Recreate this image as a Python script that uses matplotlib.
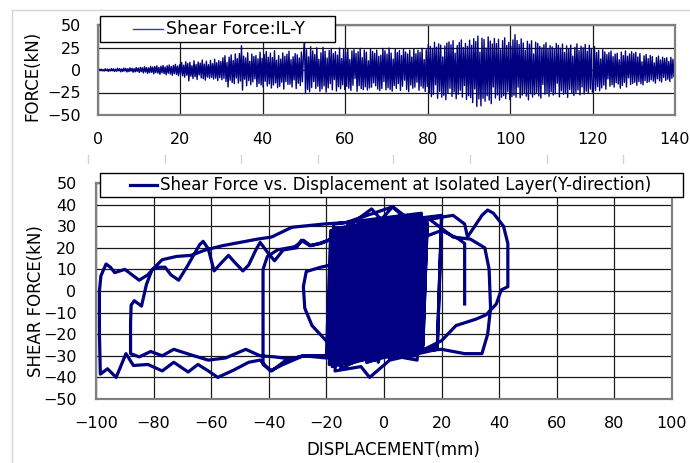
import numpy as np
import matplotlib
matplotlib.use("Agg")
import matplotlib.pyplot as plt
from matplotlib.lines import Line2D
from matplotlib.patches import Rectangle

plt.rcParams['font.family'] = ['DejaVu Sans']

NAVY = "#000080"

# --- top panel: shear force time history (kN), 0 - 140 s ---
shear_force = [
    0.0, 0.8, -0.6, 1.1, -0.9, 0.5, -1.2, 1.4, -0.7, 1.0, -1.5, 0.9, -1.1, 1.6, -0.8, 1.3, -1.7, 1.0, -1.3, 1.9,
    -0.9, 1.5, -2.0, 1.2, -1.6, 2.1, -1.0, 1.7, -2.2, 1.4, -1.8, 2.4, -1.2, 1.9, -2.5, 1.6, -2.0, 2.6, -1.5, 2.2,
    -2.7, 3.0, -1.9, 2.5, -3.3, 3.6, -2.2, 2.8, -3.8, 2.4, -3.0, 4.1, -2.6, 3.3, -4.3, 3.8, -2.9, 4.6, -3.5, 2.9,
    -4.8, 4.2, -3.2, 5.0, -4.0, 3.4, -5.3, 4.7, -3.6, 5.6, -4.5, 3.9, -5.9, 5.1, -4.1, 6.2, -5.0, 4.4, -6.3, 5.8,
    -4.9, 8.3, -6.5, 5.4, -8.0, 9.1, -5.8, 7.2, -12.1, 8.6, -6.9, 4.8, -9.4, 10.3, -7.4, 6.1, -10.6, 8.9, -5.6, 7.7,
    -8.8, 11.1, -9.7, 6.6, -11.3, 9.8, -7.9, 5.9, -9.1, 10.7, -8.3, 7.0, -10.1, 12.0, -9.0, 8.1, -11.8, 10.4, -8.6, 9.5,
    -10.8, 13.6, -9.2, 15.9, -12.7, 8.4, -18.8, 14.3, -11.4, 16.8, -13.9, 10.5, -15.2, 17.9, -8.9, 12.6, -14.5, 18.3, -12.3, 27.0,
    -22.4, 15.5, -10.2, 13.4, -17.5, 19.2, -11.8, 9.6, -16.3, 17.7, -13.2, 14.9, -9.8, 16.0, -18.5, 12.4, -15.0, 19.8, -16.6, 13.0,
    -19.1, 17.3, -12.6, 20.5, -17.8, 14.2, -15.4, 18.7, -20.0, 13.8, -16.7, 21.4, -14.3, 10.9, -19.7, 16.0, -18.1, 12.0, -13.5, 19.0,
    -21.2, 15.2, -12.9, 17.6, -16.0, 20.9, -15.7, 11.4, -18.9, 14.7, -11.0, 18.2, -20.6, 16.9, -14.8, 13.3, -17.3, 20.1, -13.1, 15.8,
    30.5, -25.3, 22.4, -21.7, 14.6, -24.1, 25.8, -19.4, 21.2, -12.9, 17.3, -20.5, 24.7, -18.1, 11.9, -23.6, 19.1, -21.0, 25.2, -17.7,
    20.8, -24.5, 13.3, -19.9, 21.7, -15.2, 23.9, -22.0, 18.2, -10.6, 20.4, -23.3, 16.5, -18.6, 24.3, -20.9, 12.7, -16.4, 22.7, -21.8,
    19.6, -18.3, 23.4, -20.2, 11.8, -22.8, 21.1, -16.9, 22.6, -9.5, 18.4, -23.7, 20.3, -17.4, 24.0, -20.8, 13.7, -21.9, 22.2, -18.7,
    19.8, -22.3, 10.2, -20.0, 23.1, -19.1, 20.7, -14.2, 18.5, -17.6, 22.1, -21.2, 15.2, -23.0, 16.4, -20.6, 23.9, -12.8, 21.4, -22.1,
    17.6, -19.7, 24.4, -21.7, 18.9, -23.5, 12.1, -17.3, 22.8, -20.4, 19.3, -15.1, 21.6, -22.7, 16.2, -18.0, 23.5, -11.3, 20.0, -21.5,
    17.8, -24.0, 22.0, -16.6, 14.4, -20.3, 23.2, -19.0, 18.1, -13.6, 21.9, -22.5, 19.6, -17.9, 24.1, -20.1, 11.5, -23.8, 22.4, -18.4,
    28.4, -25.8, 26.1, -29.7, 24.0, -27.2, 30.8, -16.4, 25.3, -31.5, 29.1, -23.8, 27.6, -30.2, 14.5, -28.1, 26.7, -33.0, 29.9, -25.6,
    31.2, -20.3, 28.0, -29.3, 32.6, -24.4, 18.7, -31.9, 27.1, -26.8, 30.5, -22.6, 33.4, -30.1, 24.9, -17.2, 29.6, -32.7, 26.3, -28.5,
    33.1, -30.7, 27.5, -36.2, 34.8, -21.0, 31.6, -40.5, 37.6, -32.1, 19.8, -39.8, 35.3, -31.4, 33.9, -34.7, 24.4, -28.6, 36.8, -33.5,
    32.2, -37.4, 28.9, -18.9, 35.0, -31.2, 29.4, -27.7, 34.1, -33.6, 22.5, -30.3, 32.7, -28.4, 35.8, -31.8, 27.3, -24.0, 30.6, -32.9,
    26.5, -29.6, 33.4, -28.0, 39.2, -30.3, 32.7, -19.1, 28.2, -31.0, 34.6, -27.9, 30.0, -25.4, 21.7, -29.0, 31.9, -33.2, 28.7, -26.2,
    32.5, -30.1, 17.8, -27.4, 30.9, -24.8, 29.5, -28.8, 26.3, -31.3, 24.6, -16.0, 28.1, -26.9, 30.3, -25.0, 23.7, -29.2, 27.0, -24.1,
    25.6, -27.8, 22.9, -26.5, 29.4, -14.7, 27.2, -29.9, 24.3, -23.1, 28.8, -27.0, 19.5, -25.7, 26.9, -30.4, 23.0, -21.8, 27.7, -26.0,
    15.4, -28.3, 25.1, -24.9, 29.0, -22.2, 21.6, -27.6, 26.4, -18.8, 24.7, -26.7, 28.3, -23.4, 20.9, -25.3, 27.5, -21.2, 23.8, -24.6,
    -20.4, 26.0, -22.6, 19.5, -18.5, 21.8, -23.1, 12.2, -19.9, 22.5, -16.8, 20.0, -21.3, 17.1, -9.9, 19.3, -18.0, 21.0, -16.3, 14.8,
    -19.0, 17.7, -14.2, 18.6, -15.6, 11.4, -20.2, 19.9, -17.2, 16.0, -13.8, 21.2, -18.9, 15.3, -8.7, 17.9, -16.1, 20.4, -14.9, 18.1,
    -13.7, 19.7, -17.0, 14.5, -12.9, 18.3, -15.2, 9.1, -16.5, 15.7, -11.8, 17.4, -14.0, 12.6, -13.1, 16.1, -10.9, 14.9, -12.4, 7.8,
    -14.6, 13.8, -9.8, 15.5, -12.0, 11.1, -13.4, 14.2, -8.3, 12.8, -11.5, 13.6, -10.2, 9.4, -12.7, 14.0, -9.1, 11.9, -7.6, 10.5,
]
time_s = np.linspace(0, 140, len(shear_force))

# --- bottom panel: hysteresis path, displacement (mm) / shear force (kN) vertices ---
# small growing cycles
early_disp = [0, -3, -2, 3, 2, -5, -4, 4, 3, -6, -4.5, 6, 4.5, -8, -6.5, 5, 3.5,
              -10, -8.5, 7, 5.5, -9, -7.5, 8, 6.5, -12, -10.5, 9, 7.5, -13, -11.5, 6, 4.5]
early_force = [0, -8, 5, 8, -5, -12, 9, 12, -9, -16, 12, 17, -12, -19, 15, 20, -15,
               -22, 18, 23, -18, -24, 20, 26, -20, -26, 22, 28, -22, -28, 24, 30, -24]

# excursion to -42 mm
loop40_disp = [-20, -28, -34, -39, -42, -42, -42, -42, -40.5, -37, -31, -28, -25.5, -22, -15, 0, 10, 8.5]
loop40_force = [-30, -30, -32, -37, -34, -20, 0, 10, 16, 19, 20.5, 23.5, 21, 22, 26, 29, 31, -24]

core1_disp = [-11, -9.5, 10, 8.5, -15, -13.5, 9, 7.5, -14, -12.5, 11, 9.5, -16, -14.5, 8, 6.5,
              -12, -10.5, 12, 10.5, -17, -15.5, 10, 8.5, -15, -13.5, 13, 11.5, -13, -11.5, 7, 5.5,
              -6, -5, 2, 1, -2, -1, 5, 4, -9, -8, -1, -2, 0, 1, 8, 7, -4, -3, 3, 2,
              -7, -6, 4, 3, 1, 2, 9, 8, -11, -10, -3, -4, -3, -2, 6, 5, -8, -7, 0, -1,
              -5, -4, 7, 6, -1, 0, 10, 9]
core1_force = [-27, 25, 30, -22, -29, 24, 29, -24, -30, 26, 31, -25, -27, 27, 32, -22,
               -29, 25, 30, -24, -31, 28, 33, -26, -28, 26, 31, -23, -30, 24, 29, -25,
               -27, 24, 28, -23, -29, 26, 30, -25, -26, 25, 29, -22, -30, 27, 31, -26, -28, 23, 27, -24,
               -31, 28, 32, -27, -27, 26, 30, -23, -30, 25, 29, -26, -32, 29, 33, -28, -28, 26, 30, -24,
               -30, 27, 31, -26, -27, 28, 32, -23]

# excursion to -99 mm
loop98_disp = [-12, -20, -28, -35, -39.5, -43, -47, -52, -57.7, -61, -64.6, -68, -73, -77, -82, -87, -89.6,
               -93, -96, -98.5, -98.8, -98.8, -98.3, -96.5, -95, -93.5, -90, -85, -82, -80, -77, -72,
               -67, -62, -56, -50, -44, -39, -32, -21, -10, 2, 11, 9.5]
loop98_force = [-29, -31, -30, -34, -37, -32, -33, -36.5, -40, -37, -34, -37.5, -33, -37, -34, -34.5, -29,
                -40, -36, -38.5, -20, 0, 7, 12.5, 11, 8.5, 10, 5, 7.5, 10.5, 14.5, 16,
                16.5, 19, 21, 22.5, 24, 25, 29.5, 31, 32, 32, 33, -26]

core2_disp = [-18, -16.5, 11, 9.5, -16, -14.5, 12, 10.5, -10, -8.5, 9, 7.5,
              -14, -12.5, -4.3, -1, 3, 7, 12, 10.5,
              -17, -15.5, 13, 11.5, -11, -9.5, 10, 8.5, -15, -13.5, 15, 13.5, -19, -17.5, 13, 11.5,
              -12, -11, -4, -5, 2, 3, 11, 10, -6, -5, 5, 4, -10, -9, 1, 0]
core2_force = [-32, 29, 34, -27, -29, 27, 32, -24, -27, 25, 30, -22,
               -33, 30, 38, 33, 39, 34, 35, -28,
               -30, 26, 31, -25, -28, 28, 33, -23, -31, 27, 32, -26, -34, 31, 36, -29,
               -29, 24, 28, -25, -31, 26, 30, -27, -33, 30, 34, -29, -27, 27, 31, -23]

# excursion to -88 mm
loop88_disp = [-10, -20, -28, -32, -38, -43, -48, -55, -61, -66, -73, -77, -81, -85, -88, -88, -87.8,
               -86.7, -84.2, -82.5, -80.5, -78, -76, -74, -71.3, -68.5, -64, -62.8, -61, -59, -56.5,
               -54, -52, -49, -47, -44.5, -43, -40.5, -38, -35, -30.4, -28.7, -25.8, -22.5, -18, -10,
               5, 15, 13.5]
loop88_force = [-28, -30, -30, -31.5, -30.5, -30, -27, -31, -32, -30, -27, -30, -28, -30.5, -29, -15, -6.5,
                -4.5, -7, 3, 10, 11, 11, 7.5, 5, 11, 21.5, 23, 19.5, 9.3, 13,
                16.5, 13.5, 9.3, 12, 19, 22.5, 18, 14, 19, 20, 23.5, 21, 22, 24, 27,
                30, 31, -25]

# excursion to +43 mm at the end of this block
core3_disp = [-13, -11.5, 11, 9.5, -16, -14.5, 11, 9.5, -12, -10.5, 13, 11.5, -18, -16.5, 12, 10.5,
              -14, -12.5, 3, 8, 20, 18.5, -17, -15.5, 12, 10.5, -9, -7.5, 10, 8.5,
              -4, -3, 9, 8, -13, -12, -2, -3, 3, 4, 12, 11, -7, -6, 2, 1,
              -15, -13.5, 0, 10, 15, 19, 24, 28, 29, 31, 34, 36, 38, 41.5, 43, 43, 43, 40.7,
              39, 35.5, 32, 25, 20, 14, 5]
core3_force = [-29, 25, 30, -24, -32, 29, 34, -27, -30, 28, 33, -25, -35, 26, 31, -30,
               -31, 32, 39, 34, 34, -26, -33, 27, 32, -28, -28, 24, 29, -23,
               -30, 25, 29, -26, -31, 26, 30, -27, -28, 27, 31, -24, -29, 24, 28, -25,
               -36, 29, 32, 33, 33, 34, 35, 31, 25, 29, 35, 37.5, 36, 30, 22, 8, 2, 0.5,
               -6, -11, -13, -16, -23, -27, -29]

# loop round -28 mm, excursion to +37 mm, decaying cycles
core4_disp = [-20, -18.5, 13, 11.5, -13, -11.5, 12, 10.5,
              -18, -25, -27.5, -28, -27, -22, -12, -6, 12, 10.5,
              -16, -14.5, 12, 10.5, -11, -9.5, 14, 12.5,
              -6, -5, 5, 4, -10, -9, 1, 0, -2, -1, 7, 6, -9, -8, 3, 2,
              -18, -16.5, 15, 24, 30, 35, 36.5, 37, 36, 34, 28, 20, 10,
              -14, -12.5, 11, 9.5, -12, -10.5, 20, 18.5, 2, -5, -8, -17, -15.5, 13, 11.5,
              -5, -4, 4, 3, 0, 1, 13, 12, -8, -7, -1, -2,
              -10, -8.5, 13, 11.5, -15, -13.5, 12, 10.5, -8, -6.5, 11, 9.5,
              -13, -11.5, 9, 7.5, -10, -8.5, 11, 9.5, -6, -4.5, 20, 26, 28, 28]
core4_force = [-30, 28, 33, -25, -34, 30, 35, -29,
               -26, -16, -8, 2, 9, 11, 14, 27, 31, -25,
               -31, 25, 30, -26, -29, 27, 32, -24,
               -33, 30, 34, -29, -27, 27, 31, -23, -33, 30, 34, -29, -31, 28, 32, -27,
               -33, 29, 34, 25, 24, 20, 10, -8, -20, -29, -29, -27, -28,
               -30, 26, 31, -25, -32, 30, 35, -27, -32, -40, -35, -37, 28, 33, -32,
               -28, 26, 30, -24, -30, 29, 33, -26, -32, 27, 31, -28,
               -29, 26, 31, -24, -31, 25, 30, -26, -27, 23, 28, -22,
               -25, 21, 26, -20, -22, 19, 24, -18, -18, 16, 28, 24, 22, -6]

loop_disp = early_disp + loop40_disp + core1_disp + loop98_disp + core2_disp + loop88_disp + core3_disp + core4_disp
loop_force = early_force + loop40_force + core1_force + loop98_force + core2_force + loop88_force + core3_force + core4_force

W, H = 690, 463
fig = plt.figure(figsize=(6.9, 4.63), dpi=100)


def fx(px):
    return px / W


def fy(py):
    return 1 - py / H


# faint spreadsheet cell lines behind the two charts
fig.add_artist(Line2D([fx(12), 1], [fy(10), fy(10)], color="#d4d4d4", lw=1))
fig.add_artist(Line2D([fx(12), fx(12)], [0, fy(10)], color="#d4d4d4", lw=1))
for xp in [88, 165, 241, 318, 393, 470, 547, 623]:
    fig.add_artist(Line2D([fx(xp), fx(xp)], [fy(163), fy(155)], color="#d4d4d4", lw=1))


def style_axes(ax):
    ax.grid(True, color="#1a1a1a", lw=0.9)
    ax.set_axisbelow(True)
    for s in ax.spines.values():
        s.set_color("#808080")
        s.set_linewidth(1.6)
    ax.tick_params(length=0, labelsize=11.5, colors="#000000")


def legend_box(x0, y0, x1, y1, line_x0, line_x1, text, lw, fontsize, line_color):
    # Excel style legend: square black frame, sample line, text
    fig.add_artist(Rectangle((fx(x0), fy(y1)), fx(x1) - fx(x0), fy(y0) - fy(y1),
                             facecolor="white", edgecolor="black", lw=1.0, zorder=5))
    ym = fy((y0 + y1) / 2)
    fig.add_artist(Line2D([fx(line_x0), fx(line_x1)], [ym, ym], color=line_color, lw=lw, zorder=6))
    fig.text(fx(line_x1 + 3), ym, text, fontsize=fontsize, va="center", ha="left", zorder=7)


ax1 = fig.add_axes([fx(98), fy(115), (675 - 98) / W, 90 / H])
ax1.plot(time_s, shear_force, color=NAVY, lw=1.0)
ax1.set_xlim(0, 140)
ax1.set_ylim(-50, 50)
ax1.set_xticks(np.arange(0, 141, 20))
ax1.set_yticks([-50, -25, 0, 25, 50])
style_axes(ax1)
ax1.tick_params(axis="x", pad=12)
ax1.tick_params(axis="y", pad=12)
ax1.set_ylabel("FORCE(kN)", fontsize=12)
ax1.yaxis.set_label_coords((41 - 98) / 577, (115 - 75.5) / 90)
legend_box(100, 16, 335, 42, 133, 163, "Shear Force:IL-Y", 1.0, 12.5, "#4040a0")

ax2 = fig.add_axes([fx(96), fy(399), 576 / W, 216 / H])
ax2.plot(loop_disp, loop_force, color=NAVY, lw=2.3, solid_joinstyle="round")
ax2.set_xlim(-100, 100)
ax2.set_ylim(-50, 50)
ax2.set_xticks(np.arange(-100, 101, 20))
ax2.set_yticks(np.arange(-50, 51, 10))
style_axes(ax2)
ax2.tick_params(axis="x", pad=12)
ax2.tick_params(axis="y", pad=14)
ax2.set_xlabel("DISPLACEMENT(mm)", fontsize=12, labelpad=8)
ax2.xaxis.set_label_coords((393 - 96) / 576, -0.195)
ax2.set_ylabel("SHEAR FORCE(kN)", fontsize=12)
ax2.yaxis.set_label_coords((45 - 96) / 576, (399 - 301) / 216)
legend_box(100, 173, 683, 197, 130, 157,
           "Shear Force vs. Displacement at Isolated Layer(Y-direction)", 2.3, 12, NAVY)

fig.savefig("out.png", dpi=100)
